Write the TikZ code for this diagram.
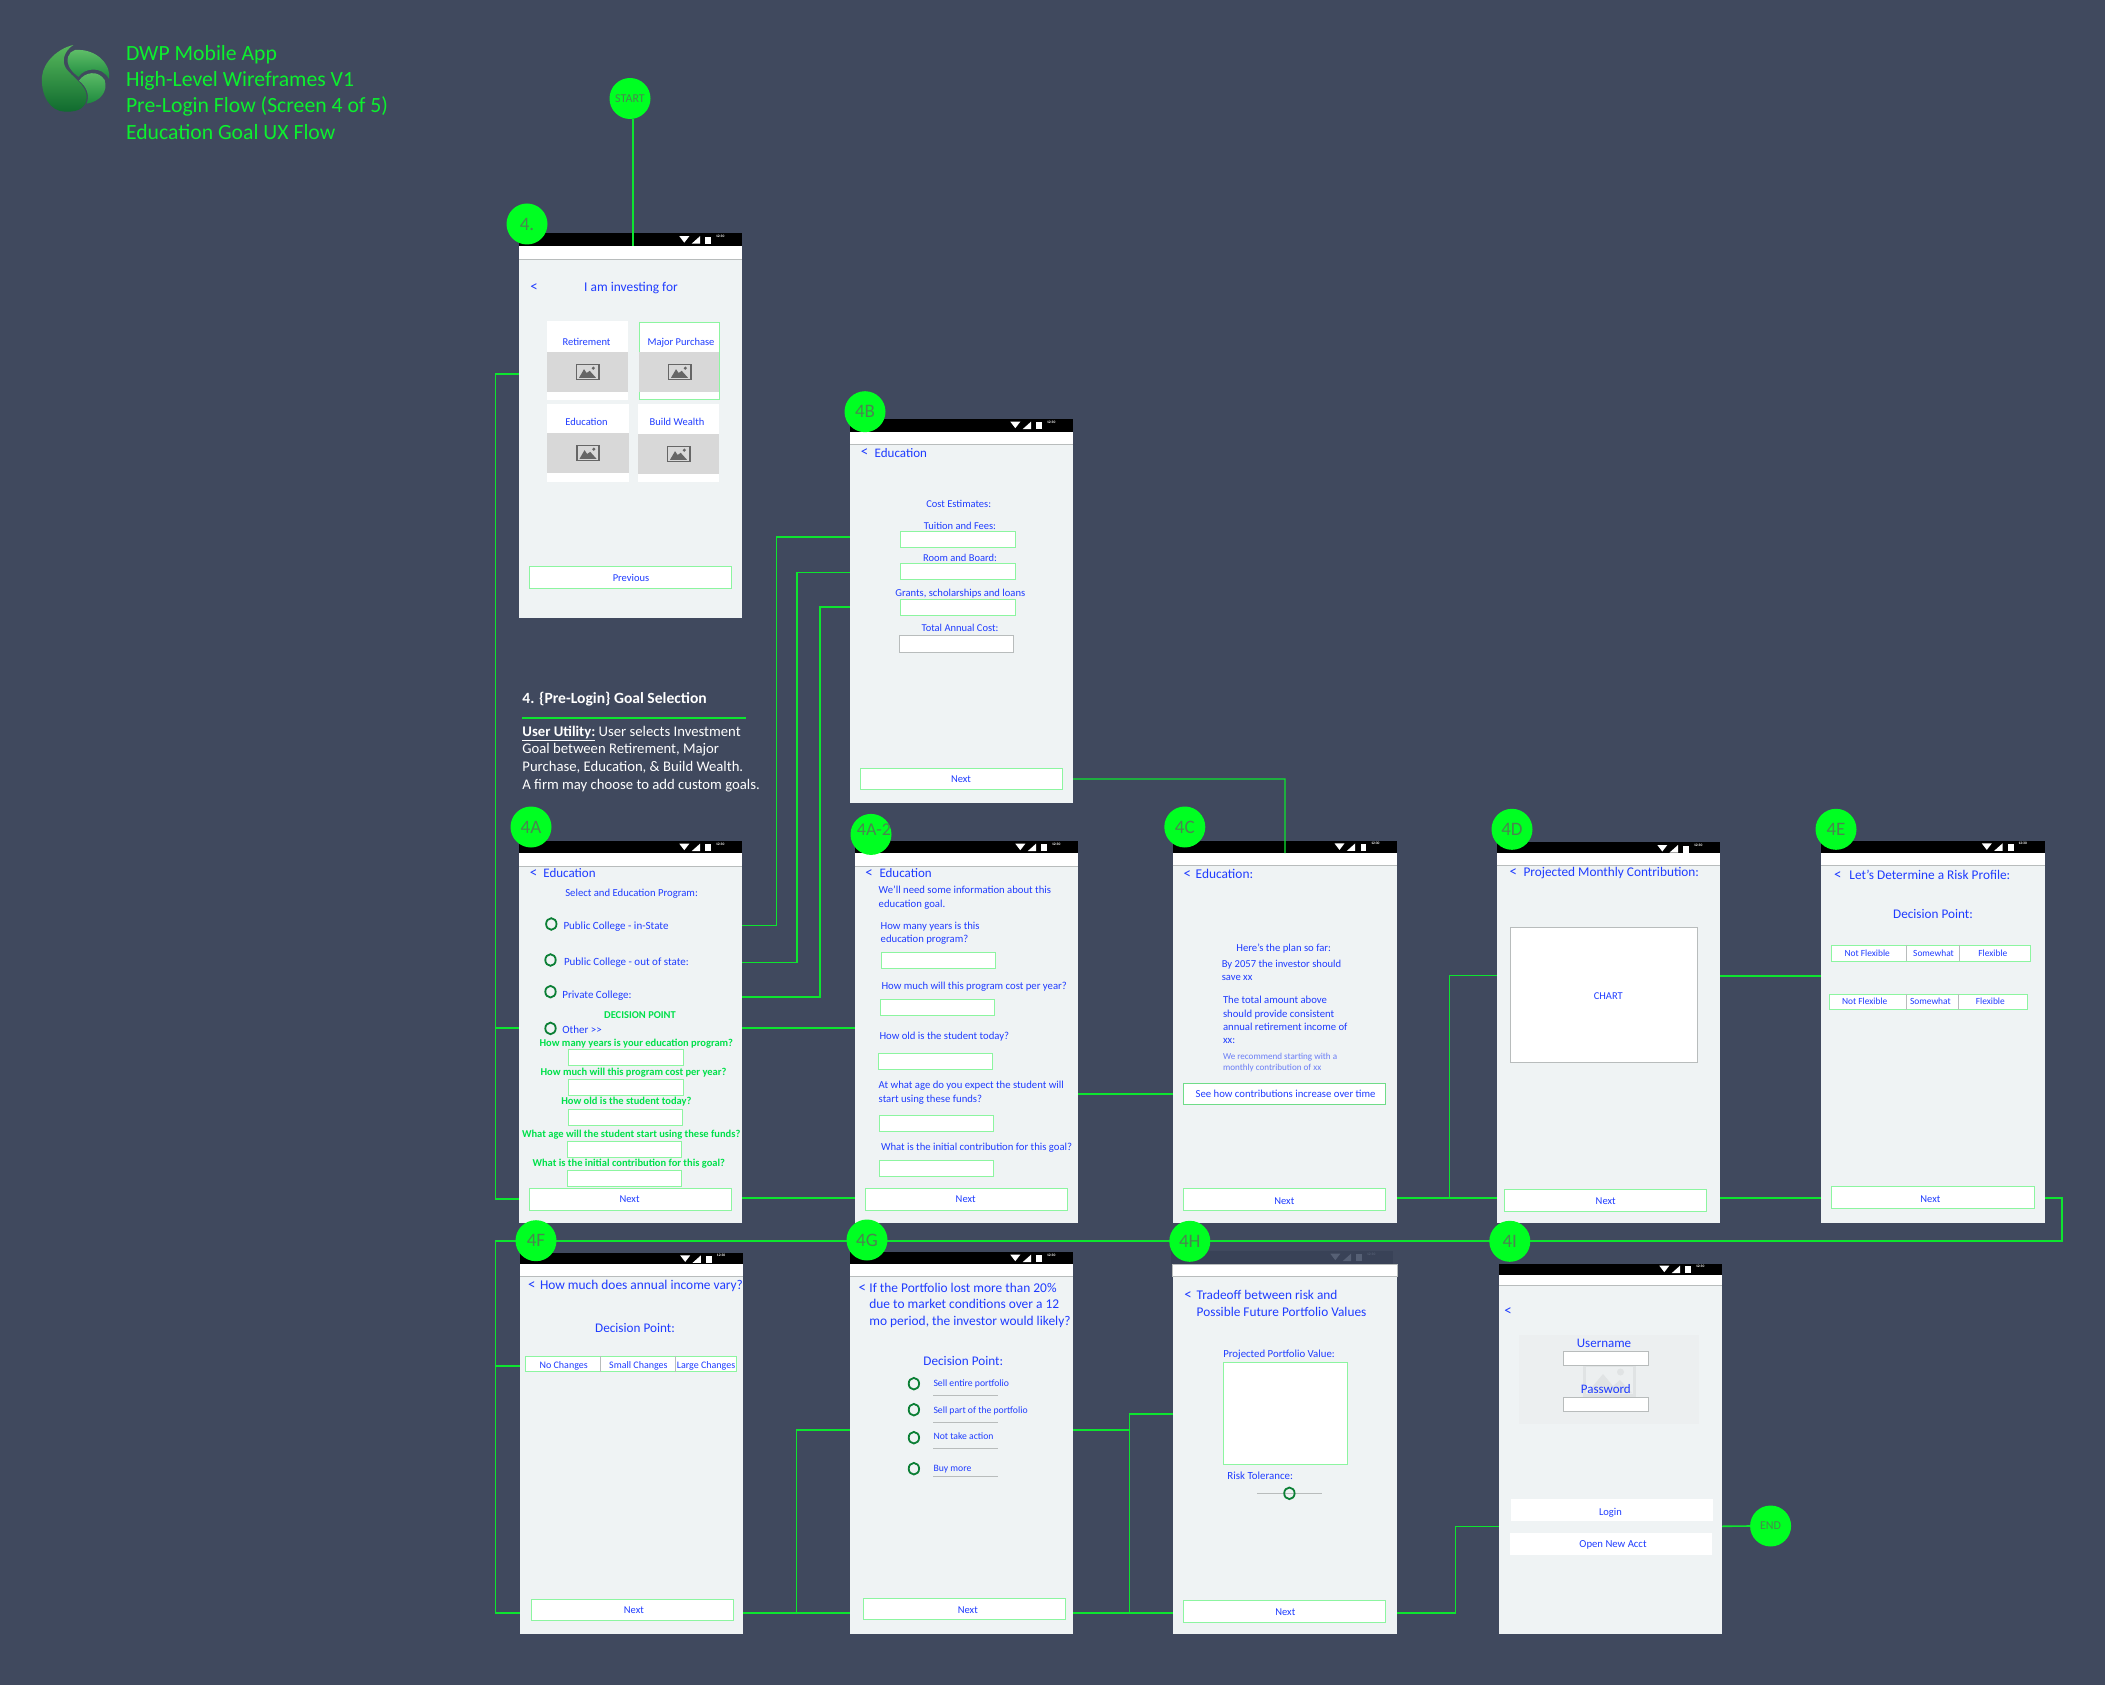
\documentclass[tikz,border=0pt]{standalone}
\usepackage{fontspec}
\setmainfont{Carlito}
\usetikzlibrary{calc}
\definecolor{bgc}{HTML}{40495E}
\definecolor{bodyc}{HTML}{EFF3F4}
\definecolor{flowc}{HTML}{0DE52F}
\definecolor{bubc}{HTML}{00FF22}
\definecolor{bubt}{HTML}{4A8550}
\definecolor{txtb}{HTML}{1F3CFF}
\definecolor{txtl}{HTML}{6A7DF5}
\definecolor{txtg}{HTML}{00E04A}
\definecolor{boxg}{HTML}{8CF5A0}
\definecolor{boxd}{HTML}{6FDC88}
\definecolor{greyb}{HTML}{B8BCBC}
\definecolor{imgg}{HTML}{D8D8D8}
\definecolor{icong}{HTML}{666666}
\definecolor{radg}{HTML}{0B7F35}
\definecolor{titleg}{HTML}{0CF02E}
\definecolor{logoa}{HTML}{57B85C}
\definecolor{logob}{HTML}{0F6A2E}
\definecolor{logoc}{HTML}{62C06A}
\definecolor{logod}{HTML}{1D8A3E}
\definecolor{fadebar}{HTML}{394257}
\definecolor{fadeicon}{HTML}{566075}
\definecolor{panelc}{HTML}{ECEFF0}
\definecolor{panelimg}{HTML}{E0E3E4}
\tikzset{
  x=1pt,y=-1pt,
  rectnode/.style={rectangle,inner sep=0pt,outer sep=0pt,anchor=north west},
  bodyn/.style={rectnode,fill=bodyc},
  flow/.style={draw=flowc,line width=1.6pt},
  thinflow/.style={draw=flowc,line width=1.2pt},
  bub/.style={circle,fill=bubc,inner sep=0pt,outer sep=0pt,minimum size=41pt,text=bubt,font=\fontsize{19}{19}\selectfont},
  bubs/.style={bub,font=\fontsize{12}{12}\selectfont},
  tn/.style={inner sep=0pt,outer sep=0pt},
  fs/.style={font=\fontsize{#1}{#1}\selectfont,text height={0.8*#1pt},text depth={0.14*#1pt}},
  fsb/.style={font=\fontsize{#1}{#1}\bfseries\selectfont,text height={0.8*#1pt},text depth={0.14*#1pt}},
  radio/.style={draw=radg,line width=1.8pt,fill=none},
}
\newcounter{auton}
\newcommand\stp{\stepcounter{auton}}
% size, x, y, text : left aligned / centred, blue
\newcommand\LT[4]{\stp\node[tn,anchor=west,text=txtb,fs=#1] (t\theauton) at (#2,#3) {#4};}
\newcommand\CT[4]{\stp\node[tn,anchor=center,text=txtb,fs=#1] (t\theauton) at (#2,#3) {#4};}
\newcommand\LL[4]{\stp\node[tn,anchor=west,text=txtl,fs=#1] (t\theauton) at (#2,#3) {#4};}
\newcommand\GT[3]{\stp\node[tn,anchor=center,text=txtg,fsb=10.5] (t\theauton) at (#1,#2) {#3};}
\newcommand\WT[3]{\stp\node[tn,anchor=west,text=white,fs=14.7] (t\theauton) at (#1,#2) {#3};}
\newcommand\HT[3]{\stp\node[tn,anchor=west,text=titleg,fs=21.7] (t\theauton) at (#1,#2) {#3};}
% "<" glyph, centred
\newcommand\BK[2]{\stp\node[tn,anchor=center,text=txtb,fs=15] (t\theauton) at (#1,#2) {<};}
% border colour, x0, y0, x1, y1
\newcommand\BX[5]{\stp\node[rectnode,fill=white,draw=#1,line width=1pt,minimum width={(#4-#2)*1pt},minimum height={(#5-#3)*1pt}] (b\theauton) at (#2,#3) {};}
\newcommand\FB[4]{\BX{boxg}{#1}{#2}{#3}{#4}}
% borderless white panel
\newcommand\WP[5][white]{\stp\node[rectnode,fill=#1,minimum width={(#4-#2)*1pt},minimum height={(#5-#3)*1pt}] (p\theauton) at (#2,#3) {};}
\newcommand\RD[2]{\draw[radio] (#1,#2) ellipse [x radius=5.2,y radius=5.8];}
\newcommand\IMG[2]{%
  \begin{scope}[shift={(#1,#2)}]
    \draw[icong,line width=1.6pt] (-11.2,-7.6) rectangle (11.2,7.6);
    \fill[icong] (-8.5,5.8) -- (-3.5,-2.8) -- (-0.8,1) -- (2.2,-1.2) -- (8.5,5.8) -- cycle;
    \fill[icong] (5.8,-3.8) circle (1.7);
  \end{scope}}
\newcommand\ICONS[3]{% right x, top y, colour
  \begin{scope}[shift={(#1,#2)}]
    \fill[#3] (-62.7,2.7) -- (-52.7,2.7) -- (-57.7,9.2) -- cycle;
    \fill[#3] (-42,2.7) -- (-42,10.2) -- (-50.4,10.2) -- cycle;
    \fill[#3] (-36.7,3.2) rectangle (-31,10.4);
    \node[inner sep=0pt,text=#3,font=\fontsize{3.6}{3.6}\bfseries\selectfont] at (-21.8,3.1) {12:30};
  \end{scope}}
% name x0 x1 ytop ybar ystrip ybottom
\newcommand\SCREEN[7]{%
  \node[bodyn,minimum width={(#3-#2)*1pt},minimum height={(#7-#4)*1pt}] (#1) at (#2,#4) {};
  \node[rectnode,fill=black,minimum width={(#3-#2)*1pt},minimum height={(#5-#4)*1pt}] (#1-bar) at (#2,#4) {};
  \node[rectnode,fill=white,minimum width={(#3-#2)*1pt},minimum height={(#6-#5)*1pt}] (#1-strip) at (#2,#5) {};
  \draw[greyb,line width=1pt] (#1-strip.south west) -- (#1-strip.south east);
  \ICONS{#3}{#4}{white}}
\begin{document}
\begin{tikzpicture}
\useasboundingbox (0,0) rectangle (2105,1685);
\fill[bgc] (0,0) rectangle (2105,1685);

% --- logo
\begin{scope}[shift={(30,35)},x=0.3333pt,y=-0.3333pt]
  \shade[top color=logoa,bottom color=logob] (130,30) .. controls (85,40) and (40,80) .. (36,125) .. controls (32,180) and (60,230) .. (105,230) .. controls (150,232) and (170,215) .. (170,185) .. controls (170,150) and (125,125) .. (108,100) .. controls (95,80) and (100,50) .. (130,30) -- cycle;
  \shade[top color=logoc,bottom color=logod] (135,45) .. controls (115,50) and (105,75) .. (120,100) .. controls (128,112) and (138,120) .. (146,126) .. controls (160,100) and (215,90) .. (237,132) .. controls (245,95) and (205,40) .. (135,45) -- cycle;
  \shade[top color=logoc,bottom color=logod] (147,137) .. controls (165,110) and (205,105) .. (224,135) .. controls (235,170) and (210,200) .. (170,206) .. controls (180,180) and (170,155) .. (147,137) -- cycle;
\end{scope}
\HT{126}{53}{DWP Mobile App}
\HT{126}{79}{High-Level Wireframes V1}
\HT{126}{105}{Pre-Login Flow (Screen 4 of 5)}
\HT{126}{132}{Education Goal UX Flow}

% --- screens
\SCREEN{s4}{519}{742}{233.5}{246.5}{260}{617.5}
\SCREEN{s4B}{850}{1073}{419}{432}{444.7}{802.7}
\SCREEN{s4A}{519}{742}{841}{853}{866}{1223}
\SCREEN{s4A2}{855}{1078}{841}{853}{866}{1223}
\SCREEN{s4C}{1172.7}{1397.2}{840.7}{853}{865.3}{1222.7}
\SCREEN{s4D}{1496.7}{1720}{842.3}{853}{865.7}{1222.7}
\SCREEN{s4E}{1821.3}{2044.5}{840.7}{853}{865.3}{1222.7}
\SCREEN{s4F}{520}{742.9}{1252.7}{1264}{1276.3}{1633.7}
\SCREEN{s4G}{849.8}{1073}{1252}{1264}{1276}{1633.7}
% 4H has a faded status bar
\node[bodyn,minimum width=224.1pt,minimum height=358pt] (s4H) at (1172.8,1276) {};
\node[rectnode,fill=fadebar,minimum width=222.5pt,minimum height=13pt] (s4H-bar) at (1170.5,1251) {};
\ICONS{1393}{1251}{fadeicon}
\node[rectnode,fill=white,draw=greyb,line width=0.8pt,minimum width=224.1pt,minimum height=12.7pt] (s4H-strip) at (1172.8,1264) {};
% 4I
\node[bodyn,minimum width=223.2pt,minimum height=348.3pt] (s4I) at (1498.8,1285.7) {};
\node[rectnode,fill=black,minimum width=223.2pt,minimum height=11pt] (s4I-bar) at (1498.8,1264) {};
\ICONS{1722}{1263}{white}
\node[rectnode,fill=white,minimum width=223.2pt,minimum height=10.7pt] (s4I-strip) at (1498.8,1275) {};
\draw[greyb,line width=1pt] (s4I-strip.south west) -- (s4I-strip.south east);

% --- screen 4
\BK{534}{286.5}
\CT{13.4}{631}{287}{I am investing for}
\WP{547}{321}{628}{400}
\node[rectnode,fill=white,draw=boxg,line width=1pt,minimum width=80.5pt,minimum height=77.6pt] (cardMP) at (639,322.4) {};
\WP{547}{403.7}{628.5}{481.6}
\WP{638}{403.7}{718.5}{481.6}
\WP[imgg]{547}{352}{628}{392}
\WP[imgg]{639}{352}{719}{392}
\WP[imgg]{547}{432.6}{628.5}{472.6}
\WP[imgg]{638}{434}{718.5}{473.5}
\IMG{587.5}{372}\IMG{679.5}{372}\IMG{588}{453}\IMG{678.5}{454}
\CT{10.5}{586.5}{341.6}{Retirement}
\CT{10.5}{681}{341.6}{Major Purchase}
\CT{10.5}{586.5}{421.6}{Education}
\CT{10.5}{677}{421.6}{Build Wealth}
\FB{529}{566.5}{731}{588.5}
\CT{10.5}{631}{578}{Previous}

% --- 4B
\BK{864.7}{452}
\LT{13}{874.7}{453}{Education}
\CT{10.5}{958.7}{503.7}{Cost Estimates:}
\CT{10.5}{960}{525.7}{Tuition and Fees:}
\FB{900.7}{531.3}{1015}{547.3}
\CT{10.5}{960}{557.7}{Room and Board:}
\FB{900.7}{563}{1015}{579.3}
\CT{10.6}{960.3}{592.7}{Grants, scholarships and loans}
\FB{900.7}{599.3}{1015}{615.7}
\CT{10.5}{960}{627.7}{Total Annual Cost:}
\BX{greyb}{899.3}{635.3}{1013.7}{652.3}
\FB{860.3}{768.3}{1062.7}{789.3}
\CT{10.5}{961}{778.7}{Next}

% --- text block
\stp\node[tn,anchor=west,text=white,fsb=15.6] (t\theauton) at (522.4,698) {4. \{Pre-Login\} Goal Selection};
\draw[flowc,line width=2pt] (t\theauton.west |- 0,717.7) -- (745.8,717.7);
\WT{522.4}{731.5}{\underline{\textbf{User Utility:}} User selects Investment}
\WT{522.4}{748.7}{Goal between Retirement, Major}
\WT{522.4}{766.3}{Purchase, Education, \& Build Wealth.}
\WT{522.4}{784.3}{A firm may choose to add custom goals.}

% --- 4A
\BK{533.5}{872.7}
\LT{13}{543.4}{873}{Education}
\CT{10.7}{631.6}{892.6}{Select and Education Program:}
\RD{551.3}{924}\LT{11}{563.5}{925.5}{Public College - in-State}
\RD{550.5}{960}\LT{11}{564}{961.5}{Public College - out of state:}
\RD{550.5}{991.7}\LT{11}{562.4}{994.8}{Private College:}
\GT{640}{1015.4}{DECISION POINT}
\RD{550.5}{1028.4}\LT{11}{562.4}{1029.6}{Other {>}{>}}
\GT{636.3}{1042.6}{How many years is your education program?}
\FB{568.3}{1049.5}{683.8}{1065.6}
\GT{633.5}{1072.5}{How much will this program cost per year?}
\FB{568.3}{1079.3}{683.8}{1095.4}
\GT{626.4}{1101.5}{How old is the student today?}
\FB{568.3}{1109.2}{682.6}{1125.3}
\GT{631.2}{1133.7}{What age will the student start using these funds?}
\FB{567.5}{1141.3}{681.8}{1157.4}
\GT{628.8}{1163.5}{What is the initial contribution for this goal?}
\FB{567.5}{1170}{681.8}{1186.5}
\FB{529.5}{1188.4}{731.6}{1210.2}
\CT{10.5}{629.6}{1198.7}{Next}

% --- 4A-2
\BK{869.2}{872.7}
\LT{13}{879.5}{873}{Education}
\LT{10.7}{878.7}{889.5}{We'll need some information about this}
\LT{10.7}{878.7}{903.7}{education goal.}
\LT{10.7}{880.7}{925.5}{How many years is this}
\LT{10.7}{880.7}{938.9}{education program?}
\FB{881.5}{952}{995.7}{968.4}
\LT{10.7}{881.5}{985.6}{How much will this program cost per year?}
\FB{880.3}{999}{994.5}{1015.4}
\LT{10.7}{879.5}{1035.7}{How old is the student today?}
\FB{878.3}{1053}{992.6}{1069.4}
\LT{10.7}{878.7}{1084.7}{At what age do you expect the student will}
\LT{10.7}{878.7}{1098.5}{start using these funds?}
\FB{879.5}{1115.3}{993.8}{1131.8}
\LT{10.7}{881}{1146.7}{What is the initial contribution for this goal?}
\FB{879.5}{1160.5}{993.8}{1176.5}
\FB{865.2}{1188.4}{1067.7}{1210.2}
\CT{10.5}{965.7}{1198.7}{Next}

% --- 4C
\BK{1187.4}{873.7}
\LT{13.4}{1195.7}{874}{Education:}
\CT{10.7}{1283.7}{947.7}{Here's the plan so far:}
\LT{10.6}{1221.8}{963.7}{By 2057 the investor should}
\LT{10.6}{1221.8}{977}{save xx}
\LT{10.7}{1223}{1000}{The total amount above}
\LT{10.7}{1223}{1014}{should provide consistent}
\LT{10.7}{1223}{1027}{annual retirement income of}
\LT{10.7}{1223}{1040}{xx:}
\LL{9.1}{1223}{1056.3}{We recommend starting with a}
\LL{9.1}{1223}{1067.3}{monthly contribution of xx}
\BX{boxd}{1183}{1083.3}{1385}{1104.7}
\CT{10.7}{1285.6}{1093.7}{See how contributions increase over time}
\FB{1183}{1188.3}{1385}{1210.3}
\CT{10.5}{1284.3}{1200.7}{Next}

% --- 4D
\BK{1513.3}{872}
\LT{13.3}{1523.5}{872}{Projected Monthly Contribution:}
\BX{greyb}{1510.7}{927.3}{1697}{1062.3}
\CT{10.5}{1608.3}{995.7}{CHART}
\FB{1504.3}{1189.3}{1706.5}{1211.3}
\CT{10.5}{1605.7}{1200.7}{Next}

% --- 4E
\BK{1837.9}{875}
\LT{13.3}{1849.4}{875}{Let's Determine a Risk Profile:}
\CT{13.2}{1933}{913.7}{Decision Point:}
\FB{1831.5}{945.3}{2030.5}{961.3}
\draw[greyb,line width=0.8pt] (1906.8,945.3) -- (1906.8,961.3) (1959,945.3) -- (1959,961.3);
\CT{9.4}{1867.2}{953.7}{Not Flexible}\CT{9.4}{1933.5}{953.7}{Somewhat}\CT{9.4}{1992.9}{953.7}{Flexible}
\FB{1829}{994}{2027.3}{1009.7}
\draw[greyb,line width=0.8pt] (1906,994) -- (1906,1009.7) (1958.4,994) -- (1958.4,1009.7);
\CT{9.4}{1864.7}{1001.7}{Not Flexible}\CT{9.4}{1930.4}{1001.7}{Somewhat}\CT{9.4}{1990.3}{1001.7}{Flexible}
\FB{1831.5}{1186.3}{2034.3}{1208.3}
\CT{10.5}{1930.4}{1198.7}{Next}

% --- 4F
\BK{531.8}{1285}
\LT{13.4}{540}{1285}{How much does annual income vary?}
\CT{13.2}{635}{1328}{Decision Point:}
\FB{525.3}{1356.3}{736.3}{1371.7}
\draw[greyb,line width=0.8pt] (600.4,1356.3) -- (600.4,1371.7) (675.5,1356.3) -- (675.5,1371.7);
\CT{10}{563.7}{1364.7}{No Changes}\CT{10}{638.4}{1364.7}{Small Changes}\CT{10}{706}{1364.7}{Large Changes}
\FB{531.4}{1599.3}{733.5}{1620.7}
\CT{10.5}{633.9}{1609.7}{Next}

% --- 4G
\BK{862.4}{1287.7}
\LT{13.4}{869.4}{1287.7}{If the Portfolio lost more than 20\%}
\LT{13.4}{869.4}{1304}{due to market conditions over a 12}
\LT{13.4}{869.4}{1321}{mo period, the investor would likely?}
\CT{13.2}{963.3}{1361}{Decision Point:}
\RD{913.9}{1383.7}\LT{9.7}{933.5}{1383.7}{Sell entire portfolio}
\RD{913.9}{1409.7}\LT{9.7}{933.5}{1410.7}{Sell part of the portfolio}
\RD{913.9}{1437.7}\LT{9.7}{933.5}{1436.7}{Not take action}
\RD{913.9}{1468.7}\LT{9.7}{933.5}{1468.7}{Buy more}
\draw[greyb,line width=1pt] (933,1395.3) -- (997.6,1395.3) (933,1422) -- (997.6,1422) (933,1448.3) -- (997.6,1448.3) (933,1476.7) -- (997.6,1476.7);
\FB{863.3}{1598}{1065.7}{1619.3}
\CT{10.5}{967.8}{1609.7}{Next}

% --- 4H
\BK{1188}{1295}
\LT{13.3}{1196.7}{1295}{Tradeoff between risk and}
\LT{13.3}{1196.7}{1312}{Possible Future Portfolio Values}
\LT{10.8}{1223.3}{1353.7}{Projected Portfolio Value:}
\FB{1223.3}{1362.7}{1347.7}{1464}
\LT{10.9}{1227.4}{1475.7}{Risk Tolerance:}
\draw[greyb,line width=0.8pt] (1256.8,1493.3) -- (1322,1493.3);
\RD{1289.4}{1493.3}
\FB{1183.4}{1600.7}{1385}{1622.3}
\CT{10.5}{1285.3}{1611.7}{Next}

% --- 4I
\BK{1508}{1310.3}
\WP[panelc]{1519.4}{1335}{1698.5}{1424}
\draw[panelimg,line width=3pt] (1584.5,1365.5) rectangle (1634.5,1395);
\fill[panelimg] (1587,1393) -- (1603,1374) -- (1613,1386) -- (1620,1380) -- (1632,1393) -- cycle;
\fill[panelimg] (1620.5,1372) circle (3.5);
\CT{13}{1604}{1343}{Username}
\BX{greyb}{1563.5}{1351.3}{1648.5}{1365}
\CT{13}{1605.8}{1389}{Password}
\BX{greyb}{1563.5}{1397.3}{1648.5}{1411.3}
\WP{1510.7}{1499.3}{1712.7}{1521}
\CT{10.5}{1610.4}{1511.7}{Login}
\WP{1509.8}{1533.3}{1711.8}{1554.7}
\CT{10.7}{1613}{1543.7}{Open New Acct}

% --- bubbles
\node[bubs] (cStart) at (630,98.5) {START};
\node[bubs] (cEnd) at (1770.6,1526) {END};

% --- connectors
\coordinate (vA) at (495.5,0);
\coordinate (vB) at (776.3,0);
\coordinate (vC) at (797.2,0);
\coordinate (vD) at (820.2,0);
\coordinate (vE) at (1285,0);
\coordinate (vF) at (1449.5,0);
\coordinate (vG) at (2061.7,0);
\coordinate (vH) at (796.7,0);
\coordinate (vI) at (1129.6,0);
\coordinate (vJ) at (1455.6,0);
\draw[flow] (cStart.south -| 633,0) -- (s4-bar.south -| 633,0);
\draw[flow] (s4.west |- 0,374) -- (vA |- 0,374) -- (vA |- 0,1198.7) -- (s4A.west |- 0,1198.7);
\draw[flow] (vA |- 0,1027.7) -- (s4A.west |- 0,1027.7);
\draw[flow] (s4A.east |- 0,925.5) -- (vB |- 0,925.5) -- (vB |- 0,536.7) -- (s4B.west |- 0,536.7);
\draw[flow] (s4A.east |- 0,962.6) -- (vC |- 0,962.6) -- (vC |- 0,572.3) -- (s4B.west |- 0,572.3);
\draw[flow] (s4A.east |- 0,997) -- (vD |- 0,997) -- (vD |- 0,606.7) -- (s4B.west |- 0,606.7);
\draw[flow] (s4A.east |- 0,1027.7) -- (s4A2.west |- 0,1027.7);
\draw[flow] (s4A.east |- 0,1198) -- (s4A2.west |- 0,1198);
\draw[flow] (s4A2.east |- 0,1094) -- (s4C.west |- 0,1094);
\draw[thinflow] (s4B.east |- 0,779) -- (vE |- 0,779) -- (s4C-bar.south);
\draw[flow] (s4C.east |- 0,1197.7) -- (s4D.west |- 0,1197.7);
\draw[thinflow] (vF |- 0,1197.7) -- (vF |- 0,975.7) -- (s4D.west |- 0,975.7);
\draw[flow] (s4D.east |- 0,975.7) -- (s4E.west |- 0,975.7);
\draw[flow] (s4D.east |- 0,1197.7) -- (s4E.west |- 0,1197.7);
\draw[flow] (s4E.east |- 0,1197.7) -- (vG |- 0,1197.7) -- (vG |- 0,1240.7) -- (vA |- 0,1240.7) -- (vA |- 0,1612.7) -- (s4F.west |- 0,1612.7);
\draw[flow] (vA |- 0,1365.7) -- (s4F.west |- 0,1365.7);
\draw[flow] (s4F.east |- 0,1612.7) -- (s4G.west |- 0,1612.7);
\draw[thinflow] (vH |- 0,1612.7) -- (vH |- 0,1430) -- (s4G.west |- 0,1430);
\draw[flow] (s4G.east |- 0,1430) -- (vI |- 0,1430);
\draw[flow] (s4G.east |- 0,1612.7) -- (s4H.west |- 0,1612.7);
\draw[thinflow] (s4H.west |- 0,1414) -- (vI |- 0,1414) -- (vI |- 0,1612.7);
\draw[flow] (s4H.east |- 0,1612.7) -- (vJ |- 0,1612.7) -- (vJ |- 0,1526.3) -- (s4I.west |- 0,1526.3);
\draw[flow] (s4I.east |- 0,1526.3) -- (cEnd.west);

% --- step bubbles
\node[bub] (c4) at (527,224) {4.};
\node[bub] (c4B) at (865,411.7) {4B};
\node[bub] (c4A) at (531,827) {4A};
\node[bub] (c4A2) at (871,834.4) {};
\node[tn,anchor=center,text=bubt,font=\fontsize{18}{18}\selectfont] (l4A2) at (874,830) {4A-2};
\node[bub] (c4C) at (1184.8,827) {4C};
\node[bub] (c4D) at (1512,829.3) {4D};
\node[bub] (c4E) at (1836,829.3) {4E};
\node[bub] (c4F) at (536,1240.7) {4F};
\node[bub] (c4G) at (867,1240) {4G};
\node[bub] (c4H) at (1189.8,1241.3) {4H};
\node[bub] (c4I) at (1509.8,1241.3) {4I};
\end{tikzpicture}
\end{document}
